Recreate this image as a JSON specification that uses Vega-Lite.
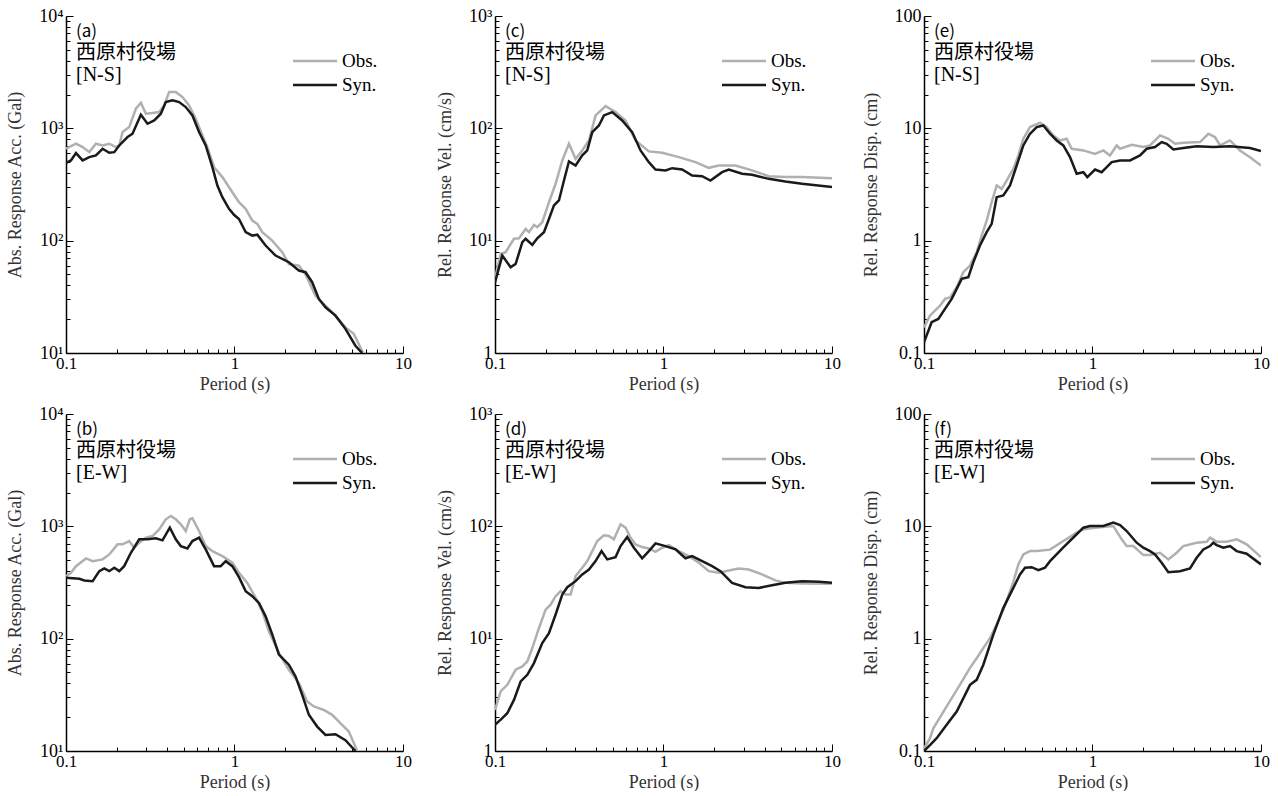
{
"$schema":"https://vega.github.io/schema/vega-lite/v6.json",
"autosize":{"type":"pad"},
"padding":{"left":6,"top":7,"right":5,"bottom":0},
"background":"#ffffff",
"columns":3,
"spacing":{"row":61,"column":92},
"bounds":"flush",
"resolve":{"scale":{"x":"independent","y":"independent","color":"independent"},"axis":{"x":"independent","y":"independent"},"legend":{"color":"independent"}},
"data":{"values":[
{"panel":"a","series":"Obs.","period":0.1,"value":658},{"panel":"a","series":"Obs.","period":0.1146,"value":729},{"panel":"a","series":"Obs.","period":0.1255,"value":681},{"panel":"a","series":"Obs.","period":0.1375,"value":614},{"panel":"a","series":"Obs.","period":0.1505,"value":729},{"panel":"a","series":"Obs.","period":0.1649,"value":704},{"panel":"a","series":"Obs.","period":0.1806,"value":729},{"panel":"a","series":"Obs.","period":0.1978,"value":681},{"panel":"a","series":"Obs.","period":0.207,"value":704},{"panel":"a","series":"Obs.","period":0.2166,"value":926},{"panel":"a","series":"Obs.","period":0.2372,"value":1026},{"panel":"a","series":"Obs.","period":0.2598,"value":1494},{"panel":"a","series":"Obs.","period":0.2782,"value":1690},{"panel":"a","series":"Obs.","period":0.2978,"value":1349},{"panel":"a","series":"Obs.","period":0.3261,"value":1367},{"panel":"a","series":"Obs.","period":0.3572,"value":1395},{"panel":"a","series":"Obs.","period":0.3824,"value":1600},{"panel":"a","series":"Obs.","period":0.4093,"value":2102},{"panel":"a","series":"Obs.","period":0.4483,"value":2102},{"panel":"a","series":"Obs.","period":0.4909,"value":1898},{"panel":"a","series":"Obs.","period":0.5377,"value":1600},{"panel":"a","series":"Obs.","period":0.5888,"value":1217},{"panel":"a","series":"Obs.","period":0.645,"value":864},{"panel":"a","series":"Obs.","period":0.6904,"value":681},{"panel":"a","series":"Obs.","period":0.7561,"value":451},{"panel":"a","series":"Obs.","period":0.8473,"value":368},{"panel":"a","series":"Obs.","period":0.971,"value":270},{"panel":"a","series":"Obs.","period":1.063,"value":220},{"panel":"a","series":"Obs.","period":1.165,"value":192},{"panel":"a","series":"Obs.","period":1.275,"value":151},{"panel":"a","series":"Obs.","period":1.366,"value":141},{"panel":"a","series":"Obs.","period":1.462,"value":119},{"panel":"a","series":"Obs.","period":1.675,"value":100},{"panel":"a","series":"Obs.","period":1.92,"value":79},{"panel":"a","series":"Obs.","period":2.102,"value":62},{"panel":"a","series":"Obs.","period":2.41,"value":60},{"panel":"a","series":"Obs.","period":2.639,"value":50},{"panel":"a","series":"Obs.","period":3.025,"value":32.4},{"panel":"a","series":"Obs.","period":3.467,"value":26.4},{"panel":"a","series":"Obs.","period":3.975,"value":21.5},{"panel":"a","series":"Obs.","period":4.554,"value":16.9},{"panel":"a","series":"Obs.","period":5.103,"value":14.8},{"panel":"a","series":"Obs.","period":5.589,"value":11.2},{"panel":"a","series":"Obs.","period":5.8,"value":10},
{"panel":"a","series":"Syn.","period":0.1,"value":493},{"panel":"a","series":"Syn.","period":0.107,"value":518},{"panel":"a","series":"Syn.","period":0.1146,"value":602},{"panel":"a","series":"Syn.","period":0.1255,"value":518},{"panel":"a","series":"Syn.","period":0.1375,"value":554},{"panel":"a","series":"Syn.","period":0.1505,"value":574},{"panel":"a","series":"Syn.","period":0.1649,"value":658},{"panel":"a","series":"Syn.","period":0.1806,"value":606},{"panel":"a","series":"Syn.","period":0.1933,"value":614},{"panel":"a","series":"Syn.","period":0.207,"value":704},{"panel":"a","series":"Syn.","period":0.2319,"value":836},{"panel":"a","series":"Syn.","period":0.2482,"value":895},{"panel":"a","series":"Syn.","period":0.2782,"value":1321},{"panel":"a","series":"Syn.","period":0.3046,"value":1098},{"panel":"a","series":"Syn.","period":0.3337,"value":1176},{"panel":"a","series":"Syn.","period":0.3654,"value":1349},{"panel":"a","series":"Syn.","period":0.3912,"value":1713},{"panel":"a","series":"Syn.","period":0.4283,"value":1773},{"panel":"a","series":"Syn.","period":0.4692,"value":1713},{"panel":"a","series":"Syn.","period":0.5137,"value":1546},{"panel":"a","series":"Syn.","period":0.5626,"value":1303},{"panel":"a","series":"Syn.","period":0.6162,"value":926},{"panel":"a","series":"Syn.","period":0.6748,"value":704},{"panel":"a","series":"Syn.","period":0.7392,"value":451},{"panel":"a","series":"Syn.","period":0.7914,"value":310},{"panel":"a","series":"Syn.","period":0.8473,"value":244},{"panel":"a","series":"Syn.","period":0.9278,"value":192},{"panel":"a","series":"Syn.","period":0.993,"value":170},{"panel":"a","series":"Syn.","period":1.063,"value":156},{"panel":"a","series":"Syn.","period":1.165,"value":119},{"panel":"a","series":"Syn.","period":1.275,"value":111},{"panel":"a","series":"Syn.","period":1.366,"value":113},{"panel":"a","series":"Syn.","period":1.53,"value":90.5},{"panel":"a","series":"Syn.","period":1.753,"value":73.7},{"panel":"a","series":"Syn.","period":2.102,"value":64.3},{"panel":"a","series":"Syn.","period":2.41,"value":54.2},{"panel":"a","series":"Syn.","period":2.639,"value":52.4},{"panel":"a","series":"Syn.","period":2.891,"value":42.7},{"panel":"a","series":"Syn.","period":3.166,"value":30.3},{"panel":"a","series":"Syn.","period":3.467,"value":25.5},{"panel":"a","series":"Syn.","period":3.975,"value":21.5},{"panel":"a","series":"Syn.","period":4.554,"value":16.4},{"panel":"a","series":"Syn.","period":5.22,"value":11.6},{"panel":"a","series":"Syn.","period":5.718,"value":10},
{"panel":"c","series":"Obs.","period":0.1,"value":4.6},{"panel":"c","series":"Obs.","period":0.108,"value":7.6},{"panel":"c","series":"Obs.","period":0.1157,"value":7.89},{"panel":"c","series":"Obs.","period":0.1296,"value":10.4},{"panel":"c","series":"Obs.","period":0.1388,"value":10.5},{"panel":"c","series":"Obs.","period":0.152,"value":12.7},{"panel":"c","series":"Obs.","period":0.1591,"value":11.9},{"panel":"c","series":"Obs.","period":0.1703,"value":13.8},{"panel":"c","series":"Obs.","period":0.1782,"value":13.2},{"panel":"c","series":"Obs.","period":0.1908,"value":14.6},{"panel":"c","series":"Obs.","period":0.209,"value":22.0},{"panel":"c","series":"Obs.","period":0.2289,"value":32.1},{"panel":"c","series":"Obs.","period":0.2508,"value":51.8},{"panel":"c","series":"Obs.","period":0.2747,"value":72.9},{"panel":"c","series":"Obs.","period":0.3008,"value":53.6},{"panel":"c","series":"Obs.","period":0.3295,"value":63.6},{"panel":"c","series":"Obs.","period":0.361,"value":78},{"panel":"c","series":"Obs.","period":0.3953,"value":130.3},{"panel":"c","series":"Obs.","period":0.4532,"value":157.8},{"panel":"c","series":"Obs.","period":0.5194,"value":139.5},{"panel":"c","series":"Obs.","period":0.5954,"value":117.6},{"panel":"c","series":"Obs.","period":0.6823,"value":78},{"panel":"c","series":"Obs.","period":0.8185,"value":62.3},{"panel":"c","series":"Obs.","period":0.982,"value":60.6},{"panel":"c","series":"Obs.","period":1.233,"value":55.4},{"panel":"c","series":"Obs.","period":1.548,"value":50.0},{"panel":"c","series":"Obs.","period":1.857,"value":44.5},{"panel":"c","series":"Obs.","period":2.13,"value":46.7},{"panel":"c","series":"Obs.","period":2.673,"value":46.7},{"panel":"c","series":"Obs.","period":3.357,"value":42.2},{"panel":"c","series":"Obs.","period":4.212,"value":37.5},{"panel":"c","series":"Obs.","period":5.288,"value":36.8},{"panel":"c","series":"Obs.","period":6.64,"value":36.8},{"panel":"c","series":"Obs.","period":10,"value":36.0},
{"panel":"c","series":"Syn.","period":0.1,"value":4.26},{"panel":"c","series":"Syn.","period":0.1105,"value":7.37},{"panel":"c","series":"Syn.","period":0.1238,"value":5.8},{"panel":"c","series":"Syn.","period":0.1326,"value":6.21},{"panel":"c","series":"Syn.","period":0.1453,"value":9.69},{"panel":"c","series":"Syn.","period":0.152,"value":10.4},{"panel":"c","series":"Syn.","period":0.1665,"value":9.18},{"panel":"c","series":"Syn.","period":0.1782,"value":10.5},{"panel":"c","series":"Syn.","period":0.1952,"value":11.9},{"panel":"c","series":"Syn.","period":0.209,"value":15.6},{"panel":"c","series":"Syn.","period":0.2238,"value":20.6},{"panel":"c","series":"Syn.","period":0.2396,"value":22.8},{"panel":"c","series":"Syn.","period":0.2566,"value":34.3},{"panel":"c","series":"Syn.","period":0.2747,"value":50.7},{"panel":"c","series":"Syn.","period":0.3008,"value":46.7},{"panel":"c","series":"Syn.","period":0.3295,"value":57.4},{"panel":"c","series":"Syn.","period":0.3528,"value":63.6},{"panel":"c","series":"Syn.","period":0.3778,"value":92.6},{"panel":"c","series":"Syn.","period":0.4138,"value":106.1},{"panel":"c","series":"Syn.","period":0.443,"value":130.3},{"panel":"c","series":"Syn.","period":0.4963,"value":139.5},{"panel":"c","series":"Syn.","period":0.5687,"value":117.6},{"panel":"c","series":"Syn.","period":0.6519,"value":92.6},{"panel":"c","series":"Syn.","period":0.7305,"value":63.6},{"panel":"c","series":"Syn.","period":0.8185,"value":50.0},{"panel":"c","series":"Syn.","period":0.8965,"value":43.0},{"panel":"c","series":"Syn.","period":1.028,"value":42.2},{"panel":"c","series":"Syn.","period":1.126,"value":44.2},{"panel":"c","series":"Syn.","period":1.29,"value":43.0},{"panel":"c","series":"Syn.","period":1.479,"value":38.0},{"panel":"c","series":"Syn.","period":1.695,"value":37.5},{"panel":"c","series":"Syn.","period":1.9,"value":34.3},{"panel":"c","series":"Syn.","period":2.228,"value":40.7},{"panel":"c","series":"Syn.","period":2.44,"value":43.0},{"panel":"c","series":"Syn.","period":2.928,"value":39.4},{"panel":"c","series":"Syn.","period":3.357,"value":38.6},{"panel":"c","series":"Syn.","period":4.212,"value":35.5},{"panel":"c","series":"Syn.","period":5.288,"value":33.6},{"panel":"c","series":"Syn.","period":6.64,"value":32.1},{"panel":"c","series":"Syn.","period":10,"value":30.0},
{"panel":"e","series":"Obs.","period":0.1,"value":0.169},{"panel":"e","series":"Obs.","period":0.1085,"value":0.215},{"panel":"e","series":"Obs.","period":0.1162,"value":0.238},{"panel":"e","series":"Obs.","period":0.1245,"value":0.264},{"panel":"e","series":"Obs.","period":0.1332,"value":0.303},{"panel":"e","series":"Obs.","period":0.1427,"value":0.313},{"panel":"e","series":"Obs.","period":0.1563,"value":0.385},{"panel":"e","series":"Obs.","period":0.1712,"value":0.524},{"panel":"e","series":"Obs.","period":0.1875,"value":0.6},{"panel":"e","series":"Obs.","period":0.2054,"value":0.789},{"panel":"e","series":"Obs.","period":0.2199,"value":1.111},{"panel":"e","series":"Obs.","period":0.2355,"value":1.511},{"panel":"e","series":"Obs.","period":0.2521,"value":2.2},{"panel":"e","series":"Obs.","period":0.27,"value":3.1},{"panel":"e","series":"Obs.","period":0.2891,"value":2.89},{"panel":"e","series":"Obs.","period":0.3094,"value":3.43},{"panel":"e","series":"Obs.","period":0.339,"value":4.36},{"panel":"e","series":"Obs.","period":0.363,"value":5.74},{"panel":"e","series":"Obs.","period":0.3886,"value":8.07},{"panel":"e","series":"Obs.","period":0.4257,"value":10.26},{"panel":"e","series":"Obs.","period":0.488,"value":11.21},{"panel":"e","series":"Obs.","period":0.5346,"value":10.26},{"panel":"e","series":"Obs.","period":0.5856,"value":8.65},{"panel":"e","series":"Obs.","period":0.6414,"value":7.8},{"panel":"e","series":"Obs.","period":0.7025,"value":8.07},{"panel":"e","series":"Obs.","period":0.7522,"value":6.58},{"panel":"e","series":"Obs.","period":0.8822,"value":6.36},{"panel":"e","series":"Obs.","period":1.035,"value":5.93},{"panel":"e","series":"Obs.","period":1.16,"value":6.36},{"panel":"e","series":"Obs.","period":1.27,"value":5.74},{"panel":"e","series":"Obs.","period":1.392,"value":7.04},{"panel":"e","series":"Obs.","period":1.457,"value":6.58},{"panel":"e","series":"Obs.","period":1.708,"value":7.14},{"panel":"e","series":"Obs.","period":2.003,"value":6.81},{"panel":"e","series":"Obs.","period":2.194,"value":7.04},{"panel":"e","series":"Obs.","period":2.516,"value":8.65},{"panel":"e","series":"Obs.","period":2.818,"value":8.07},{"panel":"e","series":"Obs.","period":3.087,"value":7.29},{"panel":"e","series":"Obs.","period":3.46,"value":7.44},{"panel":"e","series":"Obs.","period":4.345,"value":7.54},{"panel":"e","series":"Obs.","period":4.868,"value":8.95},{"panel":"e","series":"Obs.","period":5.333,"value":8.36},{"panel":"e","series":"Obs.","period":5.711,"value":7.04},{"panel":"e","series":"Obs.","period":6.546,"value":7.8},{"panel":"e","series":"Obs.","period":7.507,"value":6.36},{"panel":"e","series":"Obs.","period":8.603,"value":5.54},{"panel":"e","series":"Obs.","period":10,"value":4.67},
{"panel":"e","series":"Syn.","period":0.1,"value":0.1245},{"panel":"e","series":"Syn.","period":0.111,"value":0.188},{"panel":"e","series":"Syn.","period":0.1216,"value":0.201},{"panel":"e","series":"Syn.","period":0.1332,"value":0.247},{"panel":"e","series":"Syn.","period":0.146,"value":0.303},{"panel":"e","series":"Syn.","period":0.1563,"value":0.372},{"panel":"e","series":"Syn.","period":0.1673,"value":0.457},{"panel":"e","series":"Syn.","period":0.1833,"value":0.473},{"panel":"e","series":"Syn.","period":0.1963,"value":0.643},{"panel":"e","series":"Syn.","period":0.2149,"value":0.905},{"panel":"e","series":"Syn.","period":0.2355,"value":1.19},{"panel":"e","series":"Syn.","period":0.2521,"value":1.41},{"panel":"e","series":"Syn.","period":0.27,"value":2.44},{"panel":"e","series":"Syn.","period":0.2957,"value":2.53},{"panel":"e","series":"Syn.","period":0.3239,"value":3.1},{"panel":"e","series":"Syn.","period":0.3548,"value":4.67},{"panel":"e","series":"Syn.","period":0.3886,"value":7.04},{"panel":"e","series":"Syn.","period":0.4257,"value":8.95},{"panel":"e","series":"Syn.","period":0.4664,"value":10.26},{"panel":"e","series":"Syn.","period":0.5109,"value":10.61},{"panel":"e","series":"Syn.","period":0.5596,"value":8.95},{"panel":"e","series":"Syn.","period":0.6129,"value":7.8},{"panel":"e","series":"Syn.","period":0.6713,"value":7.04},{"panel":"e","series":"Syn.","period":0.7353,"value":5.54},{"panel":"e","series":"Syn.","period":0.8054,"value":3.94},{"panel":"e","series":"Syn.","period":0.8822,"value":4.07},{"panel":"e","series":"Syn.","period":0.9318,"value":3.68},{"panel":"e","series":"Syn.","period":1.035,"value":4.3},{"panel":"e","series":"Syn.","period":1.133,"value":4.07},{"panel":"e","series":"Syn.","period":1.3,"value":5.0},{"panel":"e","series":"Syn.","period":1.457,"value":5.18},{"panel":"e","series":"Syn.","period":1.67,"value":5.18},{"panel":"e","series":"Syn.","period":1.914,"value":5.74},{"panel":"e","series":"Syn.","period":2.097,"value":6.58},{"panel":"e","series":"Syn.","period":2.35,"value":6.81},{"panel":"e","series":"Syn.","period":2.574,"value":7.54},{"panel":"e","series":"Syn.","period":2.756,"value":7.29},{"panel":"e","series":"Syn.","period":3.018,"value":6.49},{"panel":"e","series":"Syn.","period":3.46,"value":6.67},{"panel":"e","series":"Syn.","period":4.152,"value":6.94},{"panel":"e","series":"Syn.","period":5.213,"value":6.81},{"panel":"e","series":"Syn.","period":6.546,"value":6.94},{"panel":"e","series":"Syn.","period":8.603,"value":6.67},{"panel":"e","series":"Syn.","period":10,"value":6.27},
{"panel":"b","series":"Obs.","period":0.1,"value":360},{"panel":"b","series":"Obs.","period":0.107,"value":386},{"panel":"b","series":"Obs.","period":0.1146,"value":442},{"panel":"b","series":"Obs.","period":0.1314,"value":518},{"panel":"b","series":"Obs.","period":0.1439,"value":490},{"panel":"b","series":"Obs.","period":0.1649,"value":508},{"panel":"b","series":"Obs.","period":0.1806,"value":562},{"panel":"b","series":"Obs.","period":0.2023,"value":691},{"panel":"b","series":"Obs.","period":0.2166,"value":691},{"panel":"b","series":"Obs.","period":0.2372,"value":740},{"panel":"b","series":"Obs.","period":0.254,"value":645},{"panel":"b","series":"Obs.","period":0.2719,"value":715},{"panel":"b","series":"Obs.","period":0.2978,"value":792},{"panel":"b","series":"Obs.","period":0.3261,"value":820},{"panel":"b","series":"Obs.","period":0.3572,"value":940},{"panel":"b","series":"Obs.","period":0.3912,"value":1155},{"panel":"b","series":"Obs.","period":0.4188,"value":1237},{"panel":"b","series":"Obs.","period":0.4483,"value":1155},{"panel":"b","series":"Obs.","period":0.4799,"value":1042},{"panel":"b","series":"Obs.","period":0.5137,"value":909},{"panel":"b","series":"Obs.","period":0.5427,"value":1155},{"panel":"b","series":"Obs.","period":0.5626,"value":1179},{"panel":"b","series":"Obs.","period":0.6162,"value":909},{"panel":"b","series":"Obs.","period":0.6748,"value":667},{"panel":"b","series":"Obs.","period":0.7392,"value":602},{"panel":"b","series":"Obs.","period":0.8473,"value":543},{"panel":"b","series":"Obs.","period":0.971,"value":474},{"panel":"b","series":"Obs.","period":1.063,"value":386},{"panel":"b","series":"Obs.","period":1.191,"value":314},{"panel":"b","series":"Obs.","period":1.335,"value":231},{"panel":"b","series":"Obs.","period":1.462,"value":175},{"panel":"b","series":"Obs.","period":1.601,"value":116},{"panel":"b","series":"Obs.","period":1.835,"value":74.5},{"panel":"b","series":"Obs.","period":2.102,"value":52.9},{"panel":"b","series":"Obs.","period":2.41,"value":40.2},{"panel":"b","series":"Obs.","period":2.701,"value":27.6},{"panel":"b","series":"Obs.","period":2.958,"value":24.9},{"panel":"b","series":"Obs.","period":3.389,"value":23.2},{"panel":"b","series":"Obs.","period":3.797,"value":21.0},{"panel":"b","series":"Obs.","period":4.352,"value":17.1},{"panel":"b","series":"Obs.","period":4.767,"value":14.9},{"panel":"b","series":"Obs.","period":5.34,"value":10.1},
{"panel":"b","series":"Syn.","period":0.1,"value":348},{"panel":"b","series":"Syn.","period":0.12,"value":341},{"panel":"b","series":"Syn.","period":0.1284,"value":330},{"panel":"b","series":"Syn.","period":0.1439,"value":325},{"panel":"b","series":"Syn.","period":0.1576,"value":399},{"panel":"b","series":"Syn.","period":0.1687,"value":422},{"panel":"b","series":"Syn.","period":0.1806,"value":399},{"panel":"b","series":"Syn.","period":0.1933,"value":428},{"panel":"b","series":"Syn.","period":0.207,"value":399},{"panel":"b","series":"Syn.","period":0.2215,"value":442},{"panel":"b","series":"Syn.","period":0.2427,"value":582},{"panel":"b","series":"Syn.","period":0.2719,"value":766},{"panel":"b","series":"Syn.","period":0.3046,"value":766},{"panel":"b","series":"Syn.","period":0.3413,"value":782},{"panel":"b","series":"Syn.","period":0.3738,"value":750},{"panel":"b","series":"Syn.","period":0.4131,"value":973},{"panel":"b","series":"Syn.","period":0.4483,"value":766},{"panel":"b","series":"Syn.","period":0.4799,"value":667},{"panel":"b","series":"Syn.","period":0.5256,"value":636},{"panel":"b","series":"Syn.","period":0.5626,"value":740},{"panel":"b","series":"Syn.","period":0.6162,"value":792},{"panel":"b","series":"Syn.","period":0.6748,"value":623},{"panel":"b","series":"Syn.","period":0.7561,"value":442},{"panel":"b","series":"Syn.","period":0.8281,"value":442},{"panel":"b","series":"Syn.","period":0.8866,"value":490},{"panel":"b","series":"Syn.","period":0.971,"value":442},{"panel":"b","series":"Syn.","period":1.063,"value":353},{"panel":"b","series":"Syn.","period":1.165,"value":265},{"panel":"b","series":"Syn.","period":1.275,"value":239},{"panel":"b","series":"Syn.","period":1.397,"value":208},{"panel":"b","series":"Syn.","period":1.53,"value":158},{"panel":"b","series":"Syn.","period":1.675,"value":109},{"panel":"b","series":"Syn.","period":1.835,"value":72},{"panel":"b","series":"Syn.","period":2.102,"value":58.6},{"panel":"b","series":"Syn.","period":2.303,"value":46.1},{"panel":"b","series":"Syn.","period":2.522,"value":31.6},{"panel":"b","series":"Syn.","period":2.763,"value":21.0},{"panel":"b","series":"Syn.","period":3.095,"value":16.5},{"panel":"b","series":"Syn.","period":3.467,"value":13.9},{"panel":"b","series":"Syn.","period":3.975,"value":14.1},{"panel":"b","series":"Syn.","period":4.554,"value":12.5},{"panel":"b","series":"Syn.","period":5.22,"value":10},
{"panel":"d","series":"Obs.","period":0.1,"value":2.32},{"panel":"d","series":"Obs.","period":0.108,"value":3.39},{"panel":"d","series":"Obs.","period":0.1183,"value":3.88},{"panel":"d","series":"Obs.","period":0.1326,"value":5.29},{"panel":"d","series":"Obs.","period":0.1453,"value":5.66},{"panel":"d","series":"Obs.","period":0.1555,"value":6.27},{"panel":"d","series":"Obs.","period":0.1665,"value":8.25},{"panel":"d","series":"Obs.","period":0.1824,"value":12.45},{"panel":"d","series":"Obs.","period":0.1997,"value":18.15},{"panel":"d","series":"Obs.","period":0.2138,"value":20.1},{"panel":"d","series":"Obs.","period":0.2289,"value":23.9},{"panel":"d","series":"Obs.","period":0.2451,"value":26.5},{"panel":"d","series":"Obs.","period":0.2624,"value":24.7},{"panel":"d","series":"Obs.","period":0.281,"value":24.7},{"panel":"d","series":"Obs.","period":0.3008,"value":36.0},{"panel":"d","series":"Obs.","period":0.3295,"value":42.8},{"panel":"d","series":"Obs.","period":0.3528,"value":49.0},{"panel":"d","series":"Obs.","period":0.3778,"value":60.2},{"panel":"d","series":"Obs.","period":0.4045,"value":74.0},{"panel":"d","series":"Obs.","period":0.443,"value":83.1},{"panel":"d","series":"Obs.","period":0.4742,"value":82.0},{"panel":"d","series":"Obs.","period":0.5077,"value":76.6},{"panel":"d","series":"Obs.","period":0.5561,"value":104.2},{"panel":"d","series":"Obs.","period":0.5954,"value":97.3},{"panel":"d","series":"Obs.","period":0.6373,"value":79.2},{"panel":"d","series":"Obs.","period":0.6823,"value":69.1},{"panel":"d","series":"Obs.","period":0.7472,"value":65.4},{"panel":"d","series":"Obs.","period":0.8185,"value":63.6},{"panel":"d","series":"Obs.","period":0.8965,"value":59.4},{"panel":"d","series":"Obs.","period":0.982,"value":64.5},{"panel":"d","series":"Obs.","period":1.076,"value":68.1},{"panel":"d","series":"Obs.","period":1.233,"value":60.2},{"panel":"d","series":"Obs.","period":1.413,"value":54.3},{"panel":"d","series":"Obs.","period":1.62,"value":47.4},{"panel":"d","series":"Obs.","period":1.857,"value":39.9},{"panel":"d","series":"Obs.","period":2.13,"value":38.6},{"panel":"d","series":"Obs.","period":2.44,"value":40.5},{"panel":"d","series":"Obs.","period":2.797,"value":42.2},{"panel":"d","series":"Obs.","period":3.206,"value":41.3},{"panel":"d","series":"Obs.","period":3.846,"value":37.3},{"panel":"d","series":"Obs.","period":4.613,"value":33.0},{"panel":"d","series":"Obs.","period":5.288,"value":31.4},{"panel":"d","series":"Obs.","period":6.64,"value":31.0},{"panel":"d","series":"Obs.","period":10,"value":30.8},
{"panel":"d","series":"Syn.","period":0.1,"value":1.71},{"panel":"d","series":"Syn.","period":0.1105,"value":1.96},{"panel":"d","series":"Syn.","period":0.1183,"value":2.17},{"panel":"d","series":"Syn.","period":0.1296,"value":2.85},{"panel":"d","series":"Syn.","period":0.142,"value":4.16},{"panel":"d","series":"Syn.","period":0.1555,"value":4.77},{"panel":"d","series":"Syn.","period":0.1703,"value":6.06},{"panel":"d","series":"Syn.","period":0.1908,"value":9.15},{"panel":"d","series":"Syn.","period":0.209,"value":11.2},{"panel":"d","series":"Syn.","period":0.2289,"value":16.4},{"panel":"d","series":"Syn.","period":0.2508,"value":24.7},{"panel":"d","series":"Syn.","period":0.2685,"value":28.7},{"panel":"d","series":"Syn.","period":0.3008,"value":32.5},{"panel":"d","series":"Syn.","period":0.3295,"value":37.3},{"panel":"d","series":"Syn.","period":0.361,"value":41.3},{"panel":"d","series":"Syn.","period":0.3953,"value":49.0},{"panel":"d","series":"Syn.","period":0.4289,"value":60.2},{"panel":"d","series":"Syn.","period":0.4634,"value":50.8},{"panel":"d","series":"Syn.","period":0.5194,"value":53.2},{"panel":"d","series":"Syn.","period":0.5561,"value":66.7},{"panel":"d","series":"Syn.","period":0.609,"value":80.3},{"panel":"d","series":"Syn.","period":0.6671,"value":64.5},{"panel":"d","series":"Syn.","period":0.7472,"value":52.0},{"panel":"d","series":"Syn.","period":0.8185,"value":60.2},{"panel":"d","series":"Syn.","period":0.8965,"value":70.5},{"panel":"d","series":"Syn.","period":1.028,"value":66.7},{"panel":"d","series":"Syn.","period":1.179,"value":62.3},{"panel":"d","series":"Syn.","period":1.35,"value":52.0},{"panel":"d","series":"Syn.","period":1.479,"value":54.3},{"panel":"d","series":"Syn.","period":1.695,"value":49.0},{"panel":"d","series":"Syn.","period":1.944,"value":44.2},{"panel":"d","series":"Syn.","period":2.178,"value":39.9},{"panel":"d","series":"Syn.","period":2.553,"value":31.4},{"panel":"d","series":"Syn.","period":3.064,"value":28.7},{"panel":"d","series":"Syn.","period":3.675,"value":28.3},{"panel":"d","series":"Syn.","period":4.409,"value":29.9},{"panel":"d","series":"Syn.","period":5.288,"value":31.4},{"panel":"d","series":"Syn.","period":6.64,"value":32.5},{"panel":"d","series":"Syn.","period":8.337,"value":32.1},{"panel":"d","series":"Syn.","period":10,"value":31.4},
{"panel":"f","series":"Obs.","period":0.1,"value":0.105},{"panel":"f","series":"Obs.","period":0.1085,"value":0.13},{"panel":"f","series":"Obs.","period":0.1136,"value":0.159},{"panel":"f","series":"Obs.","period":0.1363,"value":0.25},{"panel":"f","series":"Obs.","period":0.1636,"value":0.39},{"panel":"f","series":"Obs.","period":0.1875,"value":0.55},{"panel":"f","series":"Obs.","period":0.2054,"value":0.67},{"panel":"f","series":"Obs.","period":0.225,"value":0.825},{"panel":"f","series":"Obs.","period":0.2465,"value":1.01},{"panel":"f","series":"Obs.","period":0.2957,"value":1.8},{"panel":"f","series":"Obs.","period":0.339,"value":3.2},{"panel":"f","series":"Obs.","period":0.363,"value":4.58},{"panel":"f","series":"Obs.","period":0.3886,"value":5.62},{"panel":"f","series":"Obs.","period":0.4257,"value":6.02},{"panel":"f","series":"Obs.","period":0.4664,"value":6.02},{"panel":"f","series":"Obs.","period":0.5596,"value":6.2},{"panel":"f","series":"Obs.","period":0.6713,"value":7.4},{"panel":"f","series":"Obs.","period":0.8054,"value":8.78},{"panel":"f","series":"Obs.","period":0.8822,"value":9.4},{"panel":"f","series":"Obs.","period":1.035,"value":9.7},{"panel":"f","series":"Obs.","period":1.329,"value":10.07},{"panel":"f","series":"Obs.","period":1.49,"value":7.66},{"panel":"f","series":"Obs.","period":1.595,"value":6.67},{"panel":"f","series":"Obs.","period":1.747,"value":6.67},{"panel":"f","series":"Obs.","period":2.003,"value":5.55},{"panel":"f","series":"Obs.","period":2.194,"value":5.55},{"panel":"f","series":"Obs.","period":2.516,"value":5.82},{"panel":"f","series":"Obs.","period":2.818,"value":5.08},{"panel":"f","series":"Obs.","period":3.159,"value":5.82},{"panel":"f","series":"Obs.","period":3.46,"value":6.67},{"panel":"f","series":"Obs.","period":4.152,"value":7.15},{"panel":"f","series":"Obs.","period":4.76,"value":7.3},{"panel":"f","series":"Obs.","period":4.982,"value":7.92},{"panel":"f","series":"Obs.","period":5.458,"value":7.3},{"panel":"f","series":"Obs.","period":6.255,"value":7.3},{"panel":"f","series":"Obs.","period":7.171,"value":7.66},{"panel":"f","series":"Obs.","period":8.222,"value":6.91},{"panel":"f","series":"Obs.","period":10,"value":5.32},
{"panel":"f","series":"Syn.","period":0.1,"value":0.1},{"panel":"f","series":"Syn.","period":0.1085,"value":0.113},{"panel":"f","series":"Syn.","period":0.1189,"value":0.13},{"panel":"f","series":"Syn.","period":0.1363,"value":0.171},{"panel":"f","series":"Syn.","period":0.1563,"value":0.2245},{"panel":"f","series":"Syn.","period":0.1752,"value":0.316},{"panel":"f","series":"Syn.","period":0.1875,"value":0.388},{"panel":"f","series":"Syn.","period":0.2054,"value":0.43},{"panel":"f","series":"Syn.","period":0.225,"value":0.586},{"panel":"f","series":"Syn.","period":0.2579,"value":1.086},{"panel":"f","series":"Syn.","period":0.2957,"value":1.88},{"panel":"f","series":"Syn.","period":0.339,"value":2.83},{"panel":"f","series":"Syn.","period":0.3713,"value":3.73},{"panel":"f","series":"Syn.","period":0.3977,"value":4.28},{"panel":"f","series":"Syn.","period":0.4355,"value":4.33},{"panel":"f","series":"Syn.","period":0.4771,"value":4.07},{"panel":"f","series":"Syn.","period":0.5225,"value":4.28},{"panel":"f","series":"Syn.","period":0.5596,"value":4.9},{"panel":"f","series":"Syn.","period":0.6713,"value":6.5},{"panel":"f","series":"Syn.","period":0.8054,"value":8.5},{"panel":"f","series":"Syn.","period":0.8822,"value":9.73},{"panel":"f","series":"Syn.","period":0.9665,"value":10.07},{"panel":"f","series":"Syn.","period":1.16,"value":10.07},{"panel":"f","series":"Syn.","period":1.329,"value":10.78},{"panel":"f","series":"Syn.","period":1.457,"value":10.28},{"panel":"f","series":"Syn.","period":1.595,"value":9.08},{"panel":"f","series":"Syn.","period":1.829,"value":7.15},{"panel":"f","series":"Syn.","period":2.003,"value":6.45},{"panel":"f","series":"Syn.","period":2.194,"value":6.02},{"panel":"f","series":"Syn.","period":2.35,"value":5.62},{"panel":"f","series":"Syn.","period":2.574,"value":4.74},{"panel":"f","series":"Syn.","period":2.818,"value":3.91},{"panel":"f","series":"Syn.","period":3.306,"value":3.99},{"panel":"f","series":"Syn.","period":3.79,"value":4.22},{"panel":"f","series":"Syn.","period":4.152,"value":5.25},{"panel":"f","series":"Syn.","period":4.548,"value":6.23},{"panel":"f","series":"Syn.","period":4.982,"value":6.67},{"panel":"f","series":"Syn.","period":5.213,"value":7.15},{"panel":"f","series":"Syn.","period":5.458,"value":6.81},{"panel":"f","series":"Syn.","period":5.977,"value":6.45},{"panel":"f","series":"Syn.","period":6.546,"value":6.67},{"panel":"f","series":"Syn.","period":7.171,"value":6.02},{"panel":"f","series":"Syn.","period":8.222,"value":5.7},{"panel":"f","series":"Syn.","period":10,"value":4.58}
]},
"concat":[
{"width":337,"height":337,"title":{"text":"(a)","subtitle":["西原村役場","[N-S]"]},"transform":[{"filter":"datum.panel=='a'"}],"mark":{"type":"line","strokeWidth":2.5,"clip":true},
 "encoding":{"x":{"field":"period","type":"quantitative","scale":{"type":"log","domain":[0.1,10],"nice":false},"axis":{"title":"Period (s)","values":[0.1,0.2,0.3,0.4,0.5,0.6,0.7,0.8,0.9,1,2,3,4,5,6,7,8,9,10],"labelExpr":"datum.value==0.1?'0.1':datum.value==1?'1':datum.value==10?'10':''","tickSize":{"condition":{"test":"datum.value==0.1||datum.value==1||datum.value==10","value":-7},"value":-4}}},
  "y":{"field":"value","type":"quantitative","scale":{"type":"log","domain":[10,10000],"nice":false},"axis":{"title":"Abs. Response Acc. (Gal)","values":[10,20,30,40,50,60,70,80,90,100,200,300,400,500,600,700,800,900,1000,2000,3000,4000,5000,6000,7000,8000,9000,10000],"labelExpr":"datum.value==10000?'10⁴':datum.value==1000?'10³':datum.value==100?'10²':datum.value==10?'10¹':''","tickSize":{"condition":{"test":"datum.value==10||datum.value==100||datum.value==1000||datum.value==10000","value":-7},"value":-4}}},
  "color":{"field":"series","type":"nominal","scale":{"domain":["Obs.","Syn."],"range":["#b0b0b0","#1a1a1a"]},"legend":{"orient":"none","legendX":235,"legendY":31}}}},
{"width":337,"height":337,"title":{"text":"(c)","subtitle":["西原村役場","[N-S]"]},"transform":[{"filter":"datum.panel=='c'"}],"mark":{"type":"line","strokeWidth":2.5,"clip":true},
 "encoding":{"x":{"field":"period","type":"quantitative","scale":{"type":"log","domain":[0.1,10],"nice":false},"axis":{"title":"Period (s)","values":[0.1,0.2,0.3,0.4,0.5,0.6,0.7,0.8,0.9,1,2,3,4,5,6,7,8,9,10],"labelExpr":"datum.value==0.1?'0.1':datum.value==1?'1':datum.value==10?'10':''","tickSize":{"condition":{"test":"datum.value==0.1||datum.value==1||datum.value==10","value":-7},"value":-4}}},
  "y":{"field":"value","type":"quantitative","scale":{"type":"log","domain":[1,1000],"nice":false},"axis":{"title":"Rel. Response Vel. (cm/s)","values":[1,2,3,4,5,6,7,8,9,10,20,30,40,50,60,70,80,90,100,200,300,400,500,600,700,800,900,1000],"labelExpr":"datum.value==1000?'10³':datum.value==100?'10²':datum.value==10?'10¹':datum.value==1?'1':''","tickSize":{"condition":{"test":"datum.value==1||datum.value==10||datum.value==100||datum.value==1000","value":-7},"value":-4}}},
  "color":{"field":"series","type":"nominal","scale":{"domain":["Obs.","Syn."],"range":["#b0b0b0","#1a1a1a"]},"legend":{"orient":"none","legendX":235,"legendY":31}}}},
{"width":337,"height":337,"title":{"text":"(e)","subtitle":["西原村役場","[N-S]"]},"transform":[{"filter":"datum.panel=='e'"}],"mark":{"type":"line","strokeWidth":2.5,"clip":true},
 "encoding":{"x":{"field":"period","type":"quantitative","scale":{"type":"log","domain":[0.1,10],"nice":false},"axis":{"title":"Period (s)","values":[0.1,0.2,0.3,0.4,0.5,0.6,0.7,0.8,0.9,1,2,3,4,5,6,7,8,9,10],"labelExpr":"datum.value==0.1?'0.1':datum.value==1?'1':datum.value==10?'10':''","tickSize":{"condition":{"test":"datum.value==0.1||datum.value==1||datum.value==10","value":-7},"value":-4}}},
  "y":{"field":"value","type":"quantitative","scale":{"type":"log","domain":[0.1,100],"nice":false},"axis":{"title":"Rel. Response Disp. (cm)","values":[0.1,0.2,0.3,0.4,0.5,0.6,0.7,0.8,0.9,1,2,3,4,5,6,7,8,9,10,20,30,40,50,60,70,80,90,100],"labelExpr":"datum.value==100?'100':datum.value==10?'10':datum.value==1?'1':datum.value==0.1?'0.1':''","tickSize":{"condition":{"test":"datum.value==0.1||datum.value==1||datum.value==10||datum.value==100","value":-7},"value":-4}}},
  "color":{"field":"series","type":"nominal","scale":{"domain":["Obs.","Syn."],"range":["#b0b0b0","#1a1a1a"]},"legend":{"orient":"none","legendX":235,"legendY":31}}}},
{"width":337,"height":337,"title":{"text":"(b)","subtitle":["西原村役場","[E-W]"]},"transform":[{"filter":"datum.panel=='b'"}],"mark":{"type":"line","strokeWidth":2.5,"clip":true},
 "encoding":{"x":{"field":"period","type":"quantitative","scale":{"type":"log","domain":[0.1,10],"nice":false},"axis":{"title":"Period (s)","values":[0.1,0.2,0.3,0.4,0.5,0.6,0.7,0.8,0.9,1,2,3,4,5,6,7,8,9,10],"labelExpr":"datum.value==0.1?'0.1':datum.value==1?'1':datum.value==10?'10':''","tickSize":{"condition":{"test":"datum.value==0.1||datum.value==1||datum.value==10","value":-7},"value":-4}}},
  "y":{"field":"value","type":"quantitative","scale":{"type":"log","domain":[10,10000],"nice":false},"axis":{"title":"Abs. Response Acc. (Gal)","values":[10,20,30,40,50,60,70,80,90,100,200,300,400,500,600,700,800,900,1000,2000,3000,4000,5000,6000,7000,8000,9000,10000],"labelExpr":"datum.value==10000?'10⁴':datum.value==1000?'10³':datum.value==100?'10²':datum.value==10?'10¹':''","tickSize":{"condition":{"test":"datum.value==10||datum.value==100||datum.value==1000||datum.value==10000","value":-7},"value":-4}}},
  "color":{"field":"series","type":"nominal","scale":{"domain":["Obs.","Syn."],"range":["#b0b0b0","#1a1a1a"]},"legend":{"orient":"none","legendX":235,"legendY":31}}}},
{"width":337,"height":337,"title":{"text":"(d)","subtitle":["西原村役場","[E-W]"]},"transform":[{"filter":"datum.panel=='d'"}],"mark":{"type":"line","strokeWidth":2.5,"clip":true},
 "encoding":{"x":{"field":"period","type":"quantitative","scale":{"type":"log","domain":[0.1,10],"nice":false},"axis":{"title":"Period (s)","values":[0.1,0.2,0.3,0.4,0.5,0.6,0.7,0.8,0.9,1,2,3,4,5,6,7,8,9,10],"labelExpr":"datum.value==0.1?'0.1':datum.value==1?'1':datum.value==10?'10':''","tickSize":{"condition":{"test":"datum.value==0.1||datum.value==1||datum.value==10","value":-7},"value":-4}}},
  "y":{"field":"value","type":"quantitative","scale":{"type":"log","domain":[1,1000],"nice":false},"axis":{"title":"Rel. Response Vel. (cm/s)","values":[1,2,3,4,5,6,7,8,9,10,20,30,40,50,60,70,80,90,100,200,300,400,500,600,700,800,900,1000],"labelExpr":"datum.value==1000?'10³':datum.value==100?'10²':datum.value==10?'10¹':datum.value==1?'1':''","tickSize":{"condition":{"test":"datum.value==1||datum.value==10||datum.value==100||datum.value==1000","value":-7},"value":-4}}},
  "color":{"field":"series","type":"nominal","scale":{"domain":["Obs.","Syn."],"range":["#b0b0b0","#1a1a1a"]},"legend":{"orient":"none","legendX":235,"legendY":31}}}},
{"width":337,"height":337,"title":{"text":"(f)","subtitle":["西原村役場","[E-W]"]},"transform":[{"filter":"datum.panel=='f'"}],"mark":{"type":"line","strokeWidth":2.5,"clip":true},
 "encoding":{"x":{"field":"period","type":"quantitative","scale":{"type":"log","domain":[0.1,10],"nice":false},"axis":{"title":"Period (s)","values":[0.1,0.2,0.3,0.4,0.5,0.6,0.7,0.8,0.9,1,2,3,4,5,6,7,8,9,10],"labelExpr":"datum.value==0.1?'0.1':datum.value==1?'1':datum.value==10?'10':''","tickSize":{"condition":{"test":"datum.value==0.1||datum.value==1||datum.value==10","value":-7},"value":-4}}},
  "y":{"field":"value","type":"quantitative","scale":{"type":"log","domain":[0.1,100],"nice":false},"axis":{"title":"Rel. Response Disp. (cm)","values":[0.1,0.2,0.3,0.4,0.5,0.6,0.7,0.8,0.9,1,2,3,4,5,6,7,8,9,10,20,30,40,50,60,70,80,90,100],"labelExpr":"datum.value==100?'100':datum.value==10?'10':datum.value==1?'1':datum.value==0.1?'0.1':''","tickSize":{"condition":{"test":"datum.value==0.1||datum.value==1||datum.value==10||datum.value==100","value":-7},"value":-4}}},
  "color":{"field":"series","type":"nominal","scale":{"domain":["Obs.","Syn."],"range":["#b0b0b0","#1a1a1a"]},"legend":{"orient":"none","legendX":235,"legendY":31}}}}
],
"config":{
 "view":{"stroke":null},
 "axis":{"grid":false,"domainColor":"#000000","domainWidth":1.5,"tickColor":"#000000","tickWidth":1,"labelFont":"Liberation Serif","labelFontSize":18,"labelColor":"#000000","labelPadding":10,"labelFlush":false,"labelOverlap":false,"labelBound":false,"titleFont":"Liberation Serif","titleFontSize":18,"titleFontWeight":"normal","titleColor":"#333333"},
 "axisX":{"labelFontSize":17,"labelPadding":9,"titlePadding":1},
 "axisY":{"titlePadding":14},
 "title":{"anchor":"start","frame":"group","orient":"top","font":"Noto Sans CJK JP","fontSize":17,"fontWeight":"normal","color":"#000000","subtitleFont":"Liberation Serif, Noto Sans CJK JP","subtitleFontSize":20,"subtitleColor":"#000000","subtitlePadding":2,"subtitleLineHeight":22,"offset":-79,"dx":10},
 "legend":{"title":null,"symbolType":"M-1.76,0H1.76","symbolSize":625,"symbolStrokeWidth":2.5,"labelFont":"Liberation Serif","labelFontSize":19,"labelColor":"#000000","labelOffset":13,"rowPadding":0,"padding":0}
}
}
